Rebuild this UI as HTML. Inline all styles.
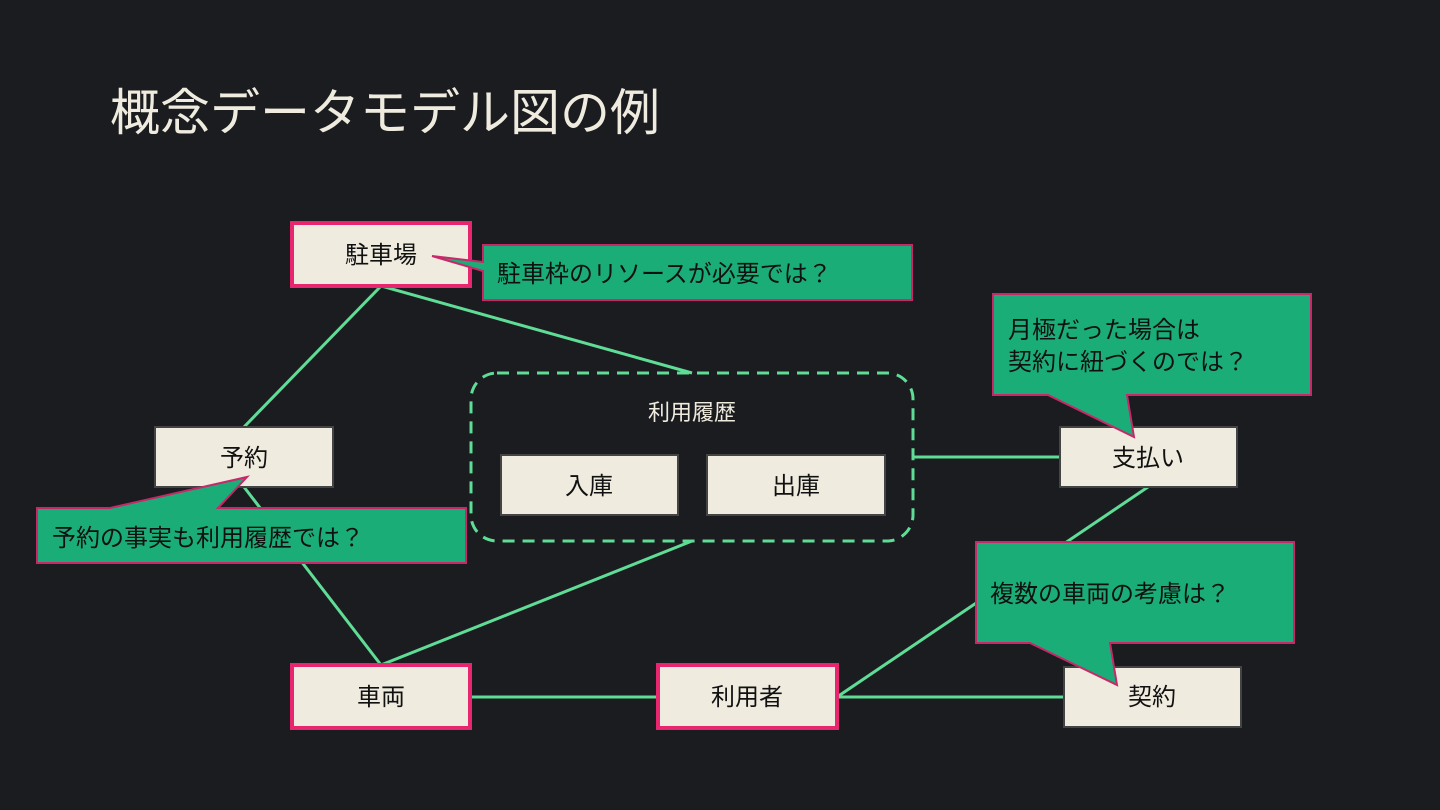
<!DOCTYPE html>
<html><head><meta charset="utf-8"><style>
html,body{margin:0;padding:0;background:#1b1c1f;}
svg{display:block}
text{font-family:"Liberation Sans","Noto Sans CJK JP",sans-serif;}
</style></head><body>
<svg width="1440" height="810" viewBox="0 0 1440 810" xmlns="http://www.w3.org/2000/svg">
<rect width="1440" height="810" fill="#1b1c1f"/>
<text x="110" y="130" font-size="50" fill="#efebdf">概念データモデル図の例</text>
<g stroke="#5fdc96" stroke-width="3" fill="none">
<line x1="381" y1="286" x2="244" y2="427"/>
<line x1="381" y1="286" x2="692" y2="373"/>
<line x1="244" y1="487" x2="381" y2="665"/>
<line x1="381" y1="665" x2="692" y2="541"/>
<line x1="470" y1="697" x2="658" y2="697"/>
<line x1="837" y1="697" x2="1064" y2="697"/>
<line x1="837" y1="697" x2="1148" y2="487"/>
<line x1="913" y1="457" x2="1060" y2="457"/>
<rect x="471" y="373" width="442" height="168" rx="26" stroke-dasharray="12 8"/>
</g>
<text x="692" y="420" font-size="22" fill="#efebdf" text-anchor="middle">利用履歴</text>
<g stroke="#e8266f" stroke-width="4" fill="#efebdf">
<rect x="292" y="223" width="178" height="63"/>
<rect x="292" y="665" width="178" height="63"/>
<rect x="658" y="665" width="179" height="63"/>
</g>
<g stroke="#444" stroke-width="2" fill="#efebdf">
<rect x="155" y="427" width="178" height="60"/>
<rect x="501" y="455" width="177" height="60"/>
<rect x="707" y="455" width="178" height="60"/>
<rect x="1060" y="427" width="177" height="60"/>
<rect x="1064" y="667" width="177" height="60"/>
</g>
<g font-size="24" fill="#111" text-anchor="middle">
<text x="381" y="263">駐車場</text>
<text x="381" y="705">車両</text>
<text x="747" y="705">利用者</text>
<text x="244" y="466">予約</text>
<text x="589" y="494">入庫</text>
<text x="796" y="494">出庫</text>
<text x="1148" y="466">支払い</text>
<text x="1152" y="705">契約</text>
</g>
<g fill="#1aad78" stroke="#c8286a" stroke-width="2">
<path d="M483,245 H912 V300 H483 V271 L432,256 L483,262 Z"/>
<path d="M37,508 H110 L247,477 L218,508 H466 V563 H37 Z"/>
<path d="M993,294 H1311 V395 H1127 L1134,437 L1048,395 H993 Z"/>
<path d="M976,542 H1294 V643 H1110 L1117,685 L1030,643 H976 Z"/>
</g>
<g font-size="24" fill="#111">
<text x="497" y="282">駐車枠のリソースが必要では？</text>
<text x="52" y="546">予約の事実も利用履歴では？</text>
<text x="1008" y="338">月極だった場合は</text>
<text x="1008" y="370">契約に紐づくのでは？</text>
<text x="990" y="602">複数の車両の考慮は？</text>
</g>
</svg>
</body></html>
